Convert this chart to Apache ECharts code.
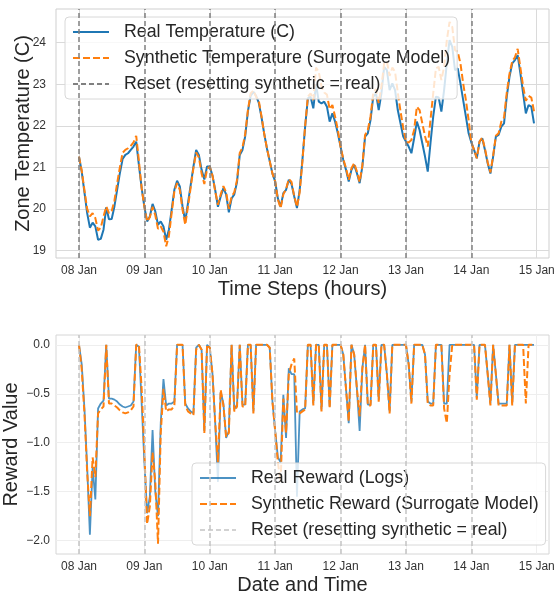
<!DOCTYPE html>
<html>
<head>
<meta charset="utf-8">
<title>Real vs Synthetic</title>
<script src="https://cdn.jsdelivr.net/npm/echarts@6/dist/echarts.min.js"></script>
<style>
  html, body { margin: 0; padding: 0; background: #fff; }
  #chart { width: 555px; height: 594px; }
</style>
</head>
<body>
<div id="chart"></div>
<script>
// hours since 08 Jan 00:00, one value per hour
var TICK_LABELS = ['08 Jan', '09 Jan', '10 Jan', '11 Jan', '12 Jan', '13 Jan', '14 Jan', '15 Jan']
var DAY_TICKS = [0, 24, 48, 72, 96, 120, 144, 168]
var RESET_HOURS = [0, 24, 48, 72, 96, 120, 144]
var TEMP_TICKS = [19, 20, 21, 22, 23, 24]
var REWARD_TICKS = [-2, -1.5, -1, -0.5, 0]

var realTemp = [
  21.26, 20.9, 20.4, 19.9, 19.55, 19.67, 19.58, 19.26, 19.28, 19.5, 20.04, 19.75, 19.76, 20.06, 20.46, 20.86, 21.2, 21.3, 21.34, 21.42, 21.5, 21.62, 21.05, 20.5,
  20.05, 19.7, 19.82, 20.12, 19.94, 19.62, 19.7, 19.58, 19.26, 19.5, 19.98, 20.46, 20.68, 20.54, 20.06, 19.7, 20.14, 20.58, 21.02, 21.42, 21.3, 20.94, 20.71, 21.02,
  21.02, 20.8, 20.45, 20.05, 20.3, 20.5, 20.35, 19.92, 20.25, 20.35, 20.65, 21.3, 21.42, 21.75, 22.35, 22.72, 22.82, 22.72, 22.55, 22.2, 21.8, 21.45, 21.15, 20.85,
  20.66, 20.25, 20.05, 20.38, 20.46, 20.7, 20.6, 20.3, 20.02, 20.46, 21.18, 21.98, 22.66, 22.7, 22.42, 23.0, 22.58, 22.54, 22.58, 22.46, 22.1, 22.3, 22.1, 21.82,
  21.5, 21.18, 20.94, 20.66, 20.94, 21.06, 20.86, 20.62, 21.02, 21.74, 21.82, 22.14, 22.7, 22.78, 22.38, 22.78, 23.42, 23.34, 22.86, 23.02, 22.86, 22.38, 22.06, 21.74,
  21.62, 21.5, 21.34, 21.7, 22.1, 21.9, 21.58, 21.26, 20.9, 21.58, 22.22, 22.7, 22.68, 22.34, 22.86, 23.5, 24.06, 23.9, 23.34, 23.38, 23.02, 22.62, 22.22, 21.82,
  21.6, 21.42, 21.22, 21.62, 21.7, 21.42, 21.1, 20.85, 21.26, 21.74, 21.78, 21.98, 22.06, 22.7, 23.18, 23.5, 23.58, 23.7, 23.26, 22.78, 22.3, 22.5, 22.46, 22.06
]
var synthTemp = [
  21.26, 20.92, 20.45, 20.0, 19.82, 19.9, 19.78, 19.48, 19.55, 19.82, 20.06, 19.9, 19.95, 20.2, 20.62, 21.0, 21.35, 21.42, 21.46, 21.52, 21.6, 21.76, 21.15, 20.5,
  20.05, 19.7, 19.8, 20.05, 19.85, 19.52, 19.58, 19.45, 19.1, 19.35, 19.9, 20.42, 20.62, 20.46, 19.98, 19.62, 20.06, 20.52, 20.98, 21.36, 21.24, 20.85, 20.6, 20.95,
  21.02, 20.8, 20.42, 20.1, 20.35, 20.55, 20.4, 20.0, 20.3, 20.4, 20.7, 21.35, 21.48, 21.8, 22.38, 22.78, 22.85, 22.7, 22.6, 22.22, 21.8, 21.45, 21.15, 20.85,
  20.66, 20.22, 20.02, 20.35, 20.48, 20.72, 20.65, 20.3, 20.05, 20.4, 21.15, 22.0, 22.7, 22.78, 22.62, 23.4, 23.3, 22.95, 22.8, 22.75, 22.4, 22.5, 22.22, 21.9,
  21.5, 21.2, 20.98, 20.7, 20.98, 21.1, 20.9, 20.65, 21.05, 21.78, 21.9, 22.22, 22.8, 22.88, 22.55, 22.95, 23.5, 23.55, 23.2, 23.4, 23.3, 22.8, 22.35, 21.95,
  21.62, 21.6, 21.66, 21.9, 22.46, 22.38, 22.06, 21.75, 21.5, 22.14, 22.78, 23.38, 23.42, 23.1, 23.42, 24.06, 24.5, 24.38, 23.82, 23.78, 23.5, 23.02, 22.62, 22.14,
  21.6, 21.42, 21.22, 21.62, 21.72, 21.45, 21.12, 20.88, 21.28, 21.76, 21.82, 22.1, 22.2, 22.8, 23.25, 23.55, 23.65, 23.85, 23.4, 22.95, 22.6, 22.72, 22.68, 22.35
]

var realReward = [
  0, -0.2, -0.65, -1.25, -1.94, -1.25, -1.58, -0.65, -0.6, -0.57, 0, -0.55, -0.55, -0.56, -0.58, -0.61, -0.63, -0.64, -0.63, -0.62, -0.58, 0, -0.02, -0.6,
  -1.2, -1.72, -1.55, -0.87, -1.5, -1.75, -0.8, -0.35, -0.62, -0.6, -0.6, -0.58, 0, 0, 0, -0.6, -0.65, -0.68, -0.7, -0.03, 0, -0.05, -0.88, 0,
  -0.03, -0.3, -0.8, -1.4, -0.48, -0.6, -0.95, -0.88, 0, -0.66, -0.61, 0, -0.61, -0.61, 0, 0, -0.68, 0, 0, 0, 0, 0, -0.03, -0.58,
  -0.88, -1.15, -1.2, -0.51, -0.95, -0.24, -0.3, -0.3, -1.55, -0.68, -0.66, -0.65, 0, 0, -0.6, 0, 0, -0.66, 0, 0, -0.63, 0, 0, 0,
  0, -0.1, -0.45, -0.8, 0, -0.1, -0.45, -0.88, -0.24, 0, -0.61, -0.61, 0, 0, -0.56, 0, 0, -0.3, -0.68, 0, 0, 0, 0, 0,
  0, -0.2, -0.58, 0, 0, 0, 0, -0.1, -0.58, -0.6, -0.6, 0, 0, 0, -0.6, -0.6, 0, 0, 0, 0, 0, 0, 0, 0,
  0, 0, -0.54, 0, 0, 0, -0.3, -0.6, 0, -0.3, -0.6, -0.6, -0.6, -0.6, 0, -0.6, 0, 0, 0, 0, 0, 0, 0, 0
]
var synthReward = [
  0, -0.25, -0.7, -1.3, -1.75, -1.15, -1.35, -0.7, -0.66, -0.63, 0, -0.6, -0.6, -0.62, -0.64, -0.67, -0.69, -0.7, -0.69, -0.67, -0.63, 0, 0, -0.45,
  -1.1, -1.83, -1.65, -1.1, -1.4, -2.03, -0.9, -0.45, -0.68, -0.66, -0.66, -0.62, 0, 0, 0, -0.62, -0.68, -0.7, -0.72, -0.05, 0, -0.05, -0.9, 0,
  -0.03, -0.3, -0.8, -1.2, -0.46, -0.62, -0.94, -0.9, 0, -0.68, -0.63, 0, -0.63, -0.63, 0, 0, -0.7, 0, 0, 0, 0, 0, -0.03, -0.58,
  -0.88, -1.2, -1.4, -0.55, -0.9, -0.3, -0.2, -0.14, -0.7, -0.7, -0.68, -0.66, 0, 0, -0.62, 0, 0, -0.68, 0, 0, -0.65, 0, 0, 0,
  0, -0.1, -0.45, -0.78, 0, -0.1, -0.45, -0.73, -0.24, 0, -0.62, -0.62, 0, 0, -0.58, 0, 0, -0.3, -0.7, 0, 0, 0, 0, 0,
  0, -0.2, -0.6, 0, 0, 0, 0, -0.1, -0.6, -0.62, -0.62, 0, 0, 0, -0.65, -0.8, -0.3, 0, 0, 0, 0, 0, 0, 0,
  0, 0, -0.56, 0, 0, 0, -0.3, -0.62, 0, -0.3, -0.62, -0.62, -0.62, -0.62, 0, -0.62, 0, 0, 0, 0, -0.6, 0, 0, 0
]

var FONT = 'Liberation Sans, Arial, sans-serif'
var BLUE = '#1f77b4'
var ORANGE = '#ff7f0e'
var RESET_NAME = 'Reset (resetting synthetic = real)'

function withHours(arr) {
  return arr.map(function (v, i) { return [i, v] })
}

function xAxisFor(gridIndex, name, gridColor) {
  return {
    type: 'value',
    gridIndex: gridIndex,
    min: -8.44,
    max: 172.5,
    name: name,
    nameLocation: 'middle',
    nameGap: 21,
    nameTextStyle: { fontFamily: FONT, fontSize: 20, color: '#262626' },
    axisLine: { show: false },
    axisTick: { show: false, customValues: DAY_TICKS },
    axisLabel: {
      customValues: DAY_TICKS,
      margin: 7,
      fontFamily: FONT,
      fontSize: 12,
      color: '#333',
      formatter: function (v) { return TICK_LABELS[Math.round(v / 24)] }
    },
    splitLine: { show: true, lineStyle: { color: gridColor, width: 1 } }
  }
}

function resetSeries(idx, color) {
  return {
    name: RESET_NAME,
    type: 'line',
    xAxisIndex: idx,
    yAxisIndex: idx,
    data: [],
    symbol: 'none',
    lineStyle: { color: color, type: [5, 3], width: 1.5 },
    itemStyle: { color: color },
    markLine: {
      silent: true,
      symbol: 'none',
      animation: false,
      label: { show: false },
      lineStyle: { color: color, type: [5, 3], width: 1.5 },
      data: RESET_HOURS.map(function (h) { return { xAxis: h } })
    }
  }
}

function legendFor(left, top, names) {
  return {
    orient: 'vertical',
    left: left,
    top: top,
    padding: [6, 7, 6, 7],
    itemWidth: 36,
    itemHeight: 10,
    itemGap: 8,
    itemStyle: { opacity: 0 },
    backgroundColor: 'rgba(255,255,255,0.8)',
    borderColor: '#d8d8d8',
    borderWidth: 1,
    borderRadius: 4,
    textStyle: { fontFamily: FONT, fontSize: 17.8, color: '#262626', lineHeight: 18, padding: [0, 0, 0, 10] },
    data: names
  }
}

var chart = echarts.init(document.getElementById('chart'))
chart.setOption({
  animation: false,
  backgroundColor: '#fff',
  textStyle: { fontFamily: FONT },
  grid: [
    { left: 56, top: 9, right: 6, height: 249, outerBoundsMode: 'none', containLabel: false, show: true, borderColor: '#cfcfcf', borderWidth: 1 },
    { left: 56, top: 335, right: 6, height: 219, outerBoundsMode: 'none', containLabel: false, show: true, borderColor: '#d6d6d6', borderWidth: 1 }
  ],
  legend: [
    legendFor(65, 17, ['Real Temperature (C)', 'Synthetic Temperature (Surrogate Model)', RESET_NAME]),
    legendFor(192, 463, [
      'Real Reward (Logs)',
      'Synthetic Reward (Surrogate Model)',
      { name: RESET_NAME, lineStyle: { color: '#c4c4c4', type: [5, 3], width: 1.5 } }
    ])
  ],
  xAxis: [
    xAxisFor(0, 'Time Steps (hours)', '#dadada'),
    xAxisFor(1, 'Date and Time', '#eeeeee')
  ],
  yAxis: [
    {
      type: 'value',
      gridIndex: 0,
      min: 18.82,
      max: 24.81,
      name: 'Zone Temperature (C)',
      nameLocation: 'middle',
      nameMoveOverlap: false,
      nameGap: 23,
      nameTextStyle: { fontFamily: FONT, fontSize: 20, color: '#262626' },
      axisLine: { show: false },
      axisTick: { show: false, customValues: TEMP_TICKS },
      axisLabel: { customValues: TEMP_TICKS, margin: 10, fontFamily: FONT, fontSize: 12, color: '#333' },
      splitLine: { show: true, lineStyle: { color: '#dadada', width: 1.2 } }
    },
    {
      type: 'value',
      gridIndex: 1,
      min: -2.136,
      max: 0.1,
      name: 'Reward Value',
      nameLocation: 'middle',
      nameMoveOverlap: false,
      nameGap: 35,
      nameTextStyle: { fontFamily: FONT, fontSize: 20, color: '#262626' },
      axisLine: { show: false },
      axisTick: { show: false, customValues: REWARD_TICKS },
      axisLabel: {
        customValues: REWARD_TICKS,
        margin: 6,
        fontFamily: FONT,
        fontSize: 12,
        color: '#333',
        formatter: function (v) { return v.toFixed(1).replace('-', '\u2212') }
      },
      splitLine: { show: true, lineStyle: { color: '#eeeeee', width: 1.2 } }
    }
  ],
  series: [
    resetSeries(0, '#808080'),
    {
      name: 'Real Temperature (C)',
      type: 'line',
      xAxisIndex: 0,
      yAxisIndex: 0,
      symbol: 'none',
      data: withHours(realTemp),
      itemStyle: { color: BLUE },
      lineStyle: { color: BLUE, width: 2 }
    },
    {
      name: 'Synthetic Temperature (Surrogate Model)',
      type: 'line',
      xAxisIndex: 0,
      yAxisIndex: 0,
      symbol: 'none',
      data: withHours(synthTemp),
      itemStyle: { color: ORANGE },
      lineStyle: { color: ORANGE, width: 2, type: [7, 3] }
    },
    resetSeries(1, '#c4c4c4'),
    {
      name: 'Real Reward (Logs)',
      type: 'line',
      xAxisIndex: 1,
      yAxisIndex: 1,
      symbol: 'none',
      data: withHours(realReward),
      itemStyle: { color: BLUE },
      lineStyle: { color: BLUE, width: 1.8, opacity: 0.8 }
    },
    {
      name: 'Synthetic Reward (Surrogate Model)',
      type: 'line',
      xAxisIndex: 1,
      yAxisIndex: 1,
      symbol: 'none',
      data: withHours(synthReward),
      itemStyle: { color: ORANGE },
      lineStyle: { color: ORANGE, width: 2, type: [7, 3] }
    }
  ]
})
</script>
</body>
</html>
